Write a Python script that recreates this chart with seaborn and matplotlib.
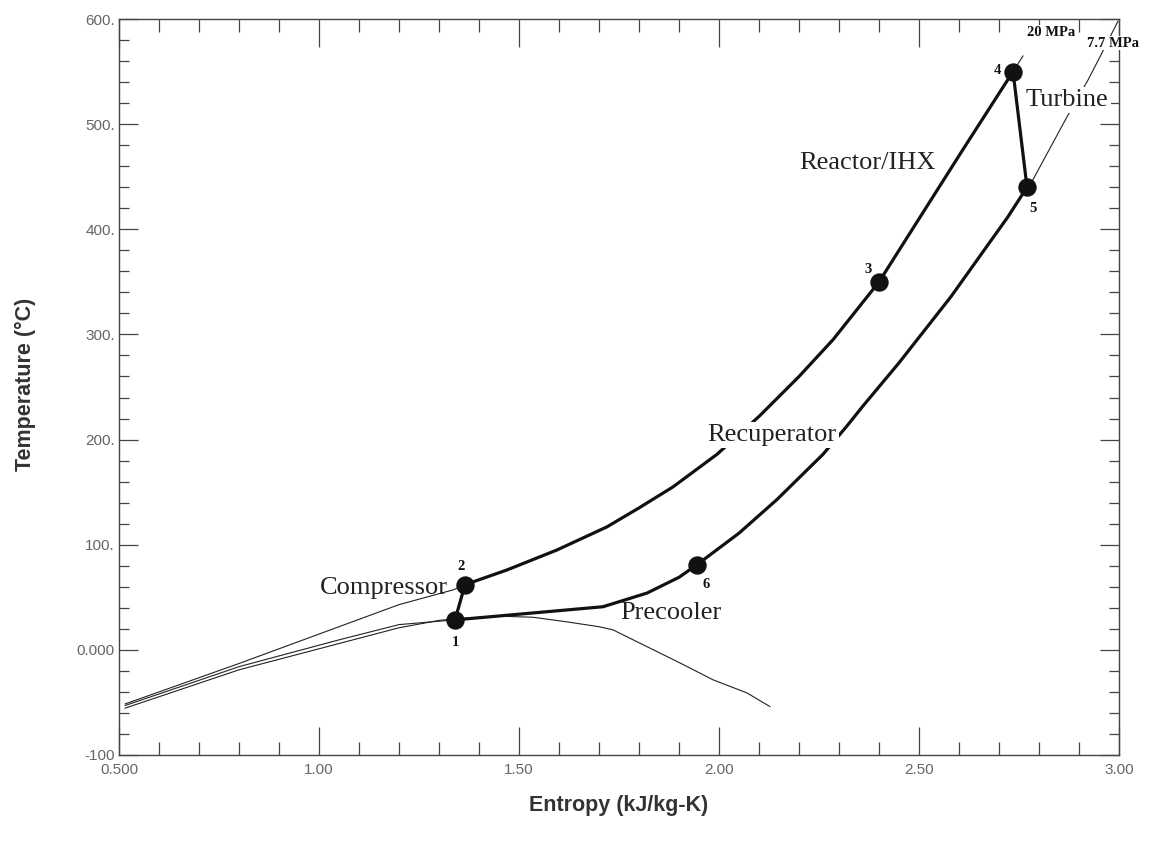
import numpy as np
import pandas as pd
import matplotlib
matplotlib.use("Agg")
import matplotlib.pyplot as plt
from matplotlib.ticker import MultipleLocator
import seaborn as sns

# S-CO2 Brayton cycle on a T-s diagram

# saturation dome
dome_s = [0.515, 0.80, 1.05, 1.20, 1.30, 1.34, 1.45, 1.535, 1.62, 1.70, 1.735, 1.82, 1.90, 1.985, 2.07, 2.1275]
dome_t = [-55.5, -19, 6, 21, 28, 29.5, 32, 31, 26.6, 22, 19, 3, -12, -28.5, -41, -54]

# 7.7 MPa isobar, liquid side up to state 1
lp_liq_s = [0.515, 0.80, 1.05, 1.20, 1.34]
lp_liq_t = [-53, -16, 9.5, 24, 28.5]

# 20 MPa isobar, liquid side up to state 2
hp_liq_s = [0.515, 0.80, 1.20, 1.335, 1.365]
hp_liq_t = [-51.5, -13, 43, 57, 62]

# high pressure side of the cycle, state 2 -> 4
hp_s = [1.365, 1.47, 1.595, 1.72, 1.80, 1.885, 1.995, 2.10, 2.20, 2.285, 2.40, 2.53, 2.61, 2.735]
hp_t = [62, 76, 95, 117, 135, 155, 186, 222, 260, 295, 350, 428, 476, 550]

# low pressure side of the cycle, state 1 -> 5
lp_s = [1.34, 1.71, 1.82, 1.90, 1.945, 2.05, 2.145, 2.26, 2.32, 2.36, 2.45, 2.58, 2.7225, 2.77]
lp_t = [28.5, 41, 54, 69, 81, 111, 143, 186, 213, 232, 273, 336, 412, 440]

# isobars beyond the turbine inlet / outlet
hp_ext_s = [2.735, 2.76]
hp_ext_t = [550, 565]
lp_ext_s = [2.77, 2.7775, 2.87, 2.9225, 2.955, 2.9975]
lp_ext_t = [440, 442, 507, 542, 566, 598]

# state points
state_s = [1.34, 1.365, 2.40, 2.735, 2.77, 1.945]
state_t = [28.5, 62, 350, 550, 440, 81]
state_lbl = ["1", "2", "3", "4", "5", "6"]

xticks = [0.5, 1.0, 1.5, 2.0, 2.5, 3.0]
xtick_lbl = ["0.500", "1.00", "1.50", "2.00", "2.50", "3.00"]
yticks = [-100, 0, 100, 200, 300, 400, 500, 600]
ytick_lbl = ["-100", "0.000", "100.", "200.", "300.", "400.", "500.", "600."]

sns.set_style("ticks")
plt.rcParams["font.family"] = ["Liberation Sans", "DejaVu Sans"]

fig, ax = plt.subplots(figsize=(11.59, 8.46), dpi=100)
fig.subplots_adjust(left=0.1027, right=0.9655, top=0.9775, bottom=0.1076)

thin = dict(color="#222222", linewidth=0.8, estimator=None, sort=False, ax=ax, legend=False)
sns.lineplot(x=dome_s, y=dome_t, **thin)
sns.lineplot(x=lp_liq_s, y=lp_liq_t, **thin)
sns.lineplot(x=hp_liq_s, y=hp_liq_t, **thin)
sns.lineplot(x=hp_ext_s, y=hp_ext_t, **thin)
sns.lineplot(x=lp_ext_s, y=lp_ext_t, **thin)

# closed cycle 1-2-...-4-5-...-1
cyc = pd.DataFrame({
    "s": [lp_s[0]] + hp_s + lp_s[::-1],
    "T": [lp_t[0]] + hp_t + lp_t[::-1],
})
sns.lineplot(data=cyc, x="s", y="T", sort=False, estimator=None, color="#111111",
             linewidth=2.3, ax=ax, legend=False)

sns.scatterplot(x=state_s, y=state_t, s=150, color="#111111", edgecolor="#111111",
                zorder=5, ax=ax, legend=False)

num_off = [(0, -16), (-3, 13), (-8, 9), (-11, 1), (4, -15), (6.5, -14)]
for s, t, lbl, off in zip(state_s, state_t, state_lbl, num_off):
    ax.annotate(lbl, (s, t), xytext=off, textcoords="offset points", ha="center",
                va="center", family="Liberation Serif", weight="bold", fontsize=10.5,
                color="#111111")

serif = dict(family="Liberation Serif", fontsize=19, color="#222222", ha="center", va="center")
box = dict(facecolor="white", edgecolor="none", pad=1.5)
ax.text(2.37, 463, "Reactor/IHX", **serif)
ax.text(2.87, 523, "Turbine", bbox=box, zorder=6, **serif)
ax.text(2.1325, 204, "Recuperator", bbox=box, zorder=6, **serif)
ax.text(1.1625, 59, "Compressor", **serif)
ax.text(1.88, 35, "Precooler", **serif)

small = dict(family="Liberation Serif", weight="bold", fontsize=10.5, color="#111111",
             ha="center", va="center", clip_on=False)
ax.text(2.83, 587, "20 MPa", bbox=dict(facecolor="white", edgecolor="none", pad=0.5), zorder=6, **small)
ax.text(2.985, 577, "7.7 MPa", bbox=dict(facecolor="white", edgecolor="none", pad=0.5), zorder=6, **small)

ax.set_xlim(0.5, 3.0)
ax.set_ylim(-100, 600)
ax.set_xticks(xticks)
ax.set_xticklabels(xtick_lbl)
ax.set_yticks(yticks)
ax.set_yticklabels(ytick_lbl)
ax.xaxis.set_minor_locator(MultipleLocator(0.1))
ax.yaxis.set_minor_locator(MultipleLocator(20))

ax.tick_params(axis="both", which="both", direction="in", top=True, right=True,
               colors="#444444", labelcolor="#666666", labelsize=11, width=0.9)
ax.tick_params(axis="x", which="major", length=20, pad=6)
ax.tick_params(axis="x", which="minor", length=9.5)
ax.tick_params(axis="y", which="major", length=14, pad=3)
ax.tick_params(axis="y", which="minor", length=7)
for sp in ax.spines.values():
    sp.set_color("#444444")
    sp.set_linewidth(1.0)

ax.set_xlabel("Entropy (kJ/kg-K)", fontsize=15.5, weight="bold", color="#333333")
ax.set_ylabel("Temperature (°C)", fontsize=15.5, weight="bold", color="#333333")
ax.xaxis.set_label_coords(0.5, -0.054)
ax.yaxis.set_label_coords(-0.083, 0.503)

fig.savefig("out.png", dpi=100, facecolor="white")
